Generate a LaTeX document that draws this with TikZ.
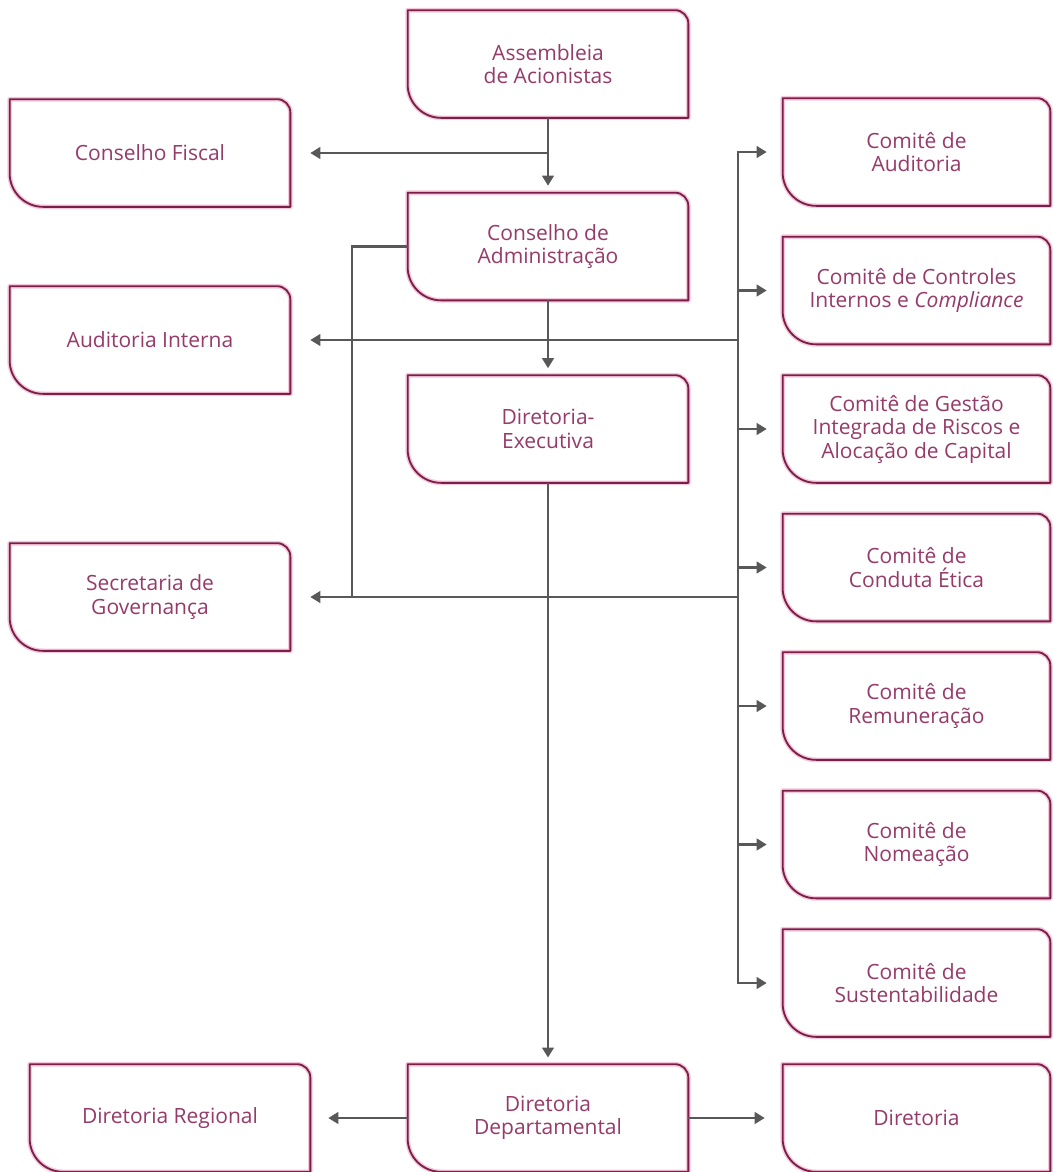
\documentclass[tikz,border=0pt]{standalone}
\usepackage{fontspec}
\setmainfont{Open Sans}
\usetikzlibrary{arrows.meta,calc}
\definecolor{txtc}{RGB}{150,58,106}
\definecolor{brdc}{RGB}{122,30,74}
\definecolor{haloc}{RGB}{245,200,218}
\definecolor{lnc}{RGB}{88,88,88}
\tikzset{
  boxtxt/.style={draw=none, inner sep=0pt, minimum height=64.2pt, align=center,
    text=txtc, font=\fontsize{12.6}{14.1}\selectfont},
  boxline/.style={draw=brdc, line width=1.1pt, line join=round},
  boxhalo/.style={draw=haloc, line width=2.8pt, line join=round},
  conn/.style={draw=lnc, line width=1.3pt},
  arr/.style={conn, -{Triangle[width=7pt,length=6pt]}},
}
\newcommand\boxoutline[2]{%
  \draw[#2] (#1.north west) -- ([xshift=-8pt]#1.north east)
     .. controls ([xshift=-3.6pt]#1.north east) and ([yshift=-3.6pt]#1.north east) .. ([yshift=-8pt]#1.north east)
     -- (#1.south east) -- ([xshift=20pt]#1.south west)
     .. controls ([xshift=9pt]#1.south west) and ([yshift=9pt]#1.south west) .. ([yshift=20pt]#1.south west)
     -- cycle;}
\newcommand\orgbox[5]{%
  \node[boxtxt, minimum width=#4] (#1) at (#2,#3) {#5};
  \boxoutline{#1}{boxhalo}
  \boxoutline{#1}{boxline}}
\begin{document}
\begin{tikzpicture}[x=0.6pt,y=-0.6pt]
\useasboundingbox[fill=white] (0,0) rectangle (1052,1172);
% central column
\orgbox{asm}{548}{64}{168pt}{Assembleia\\de Acionistas}
\orgbox{cad}{548}{246.5}{168pt}{Conselho de\\Administração}
\orgbox{de}{548}{429}{168pt}{Diretoria-\\Executiva}
% left column
\orgbox{cf}{150}{153}{168pt}{Conselho Fiscal}
\orgbox{ai}{150}{340}{168pt}{Auditoria Interna}
\orgbox{sg}{150}{597}{168pt}{Secretaria de\\Governança}
% committees
\orgbox{c1}{916.5}{152}{160.2pt}{Comitê de\\Auditoria}
\orgbox{c2}{916.5}{290.5}{160.2pt}{Comitê de Controles\\Internos e \textit{Compliance}}
\orgbox{c3}{916.5}{429}{160.2pt}{Comitê de Gestão\\Integrada de Riscos e\\Alocação de Capital}
\orgbox{c4}{916.5}{567.5}{160.2pt}{Comitê de\\Conduta Ética}
\orgbox{c5}{916.5}{706}{160.2pt}{Comitê de\\Remuneração}
\orgbox{c6}{916.5}{844.5}{160.2pt}{Comitê de\\Nomeação}
\orgbox{c7}{916.5}{983}{160.2pt}{Comitê de\\Sustentabilidade}
% bottom row
\orgbox{dr}{170}{1118}{168pt}{Diretoria Regional}
\orgbox{dd}{548}{1118}{168pt}{Diretoria\\Departamental}
\orgbox{dir}{916.5}{1118}{160.2pt}{Diretoria}
% helper coordinates
\coordinate (sp) at (738,0);
\coordinate (lx) at (352,0);
\coordinate (j1) at (asm.south |- cf.east);
% connectors
\draw[arr, shorten >=4.2pt] (asm.south) -- (cad.north);
\draw[arr, shorten >=12pt] (j1) -- (cf.east);
\draw[arr, shorten >=4.2pt] (cad.south) -- (de.north);
\draw[arr, shorten >=4pt] (de.south) -- (dd.north);
% committee spine
\draw[conn] (sp |- c1.west) -- (sp |- c7.west);
\draw[arr, shorten >=9.6pt] ([yshift=-0.65pt]sp |- c1.west) |- (c1.west);
\draw[arr, shorten >=9.6pt] ([yshift=0.65pt]sp |- c7.west) |- (c7.west);
\foreach \i in {2,3,4,5,6}{
  \draw[arr, shorten >=9.6pt] (sp |- c\i.west) -- (c\i.west);
}
\draw[arr, shorten >=12pt] (sp |- ai.east) -- (ai.east);
\draw[arr, shorten >=12pt] (sp |- sg.east) -- (sg.east);
\draw[conn] (cad.west) -- (lx |- cad.west) -- (lx |- sg.east);
% bottom row
\draw[arr, shorten >=10.8pt] (dd.west) -- (dr.east);
\draw[arr, shorten >=10.8pt] (dd.east) -- (dir.west);
\end{tikzpicture}
\end{document}
